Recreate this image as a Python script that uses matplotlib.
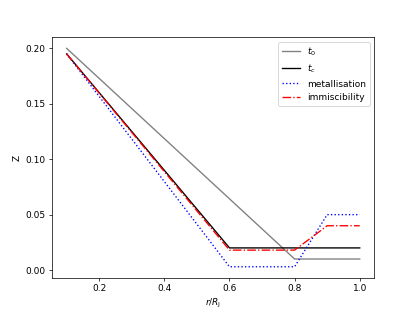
import matplotlib
matplotlib.use("Agg")
import matplotlib.pyplot as plt
import numpy as np

# radius grid points where the profiles change slope
r_t0 = [0.1, 0.8, 1.0]
z_t0 = [0.200, 0.010, 0.010]

r_tc = [0.1, 0.6, 1.0]
z_tc = [0.195, 0.020, 0.020]

r_met = [0.1, 0.6, 0.8, 0.9, 1.0]
z_met = [0.195, 0.003, 0.003, 0.050, 0.050]

r_imm = [0.1, 0.6, 0.8, 0.9, 1.0]
z_imm = [0.195, 0.018, 0.018, 0.040, 0.040]

fig, ax = plt.subplots(figsize=(6.4, 4.8), dpi=65)

ax.plot(r_t0, z_t0, color="grey", label="$t_0$")
ax.plot(r_tc, z_tc, color="black", label="$t_c$")
ax.plot(r_met, z_met, color="blue", linestyle=":", label="metallisation")
ax.plot(r_imm, z_imm, color="red", linestyle="-.", label="immiscibility")

ax.set_yticks(np.arange(0, 0.21, 0.05))
ax.set_xlabel(r"$r/R_\mathrm{J}$")
ax.set_ylabel("Z")
ax.legend()

fig.savefig("out.png", dpi=65)
